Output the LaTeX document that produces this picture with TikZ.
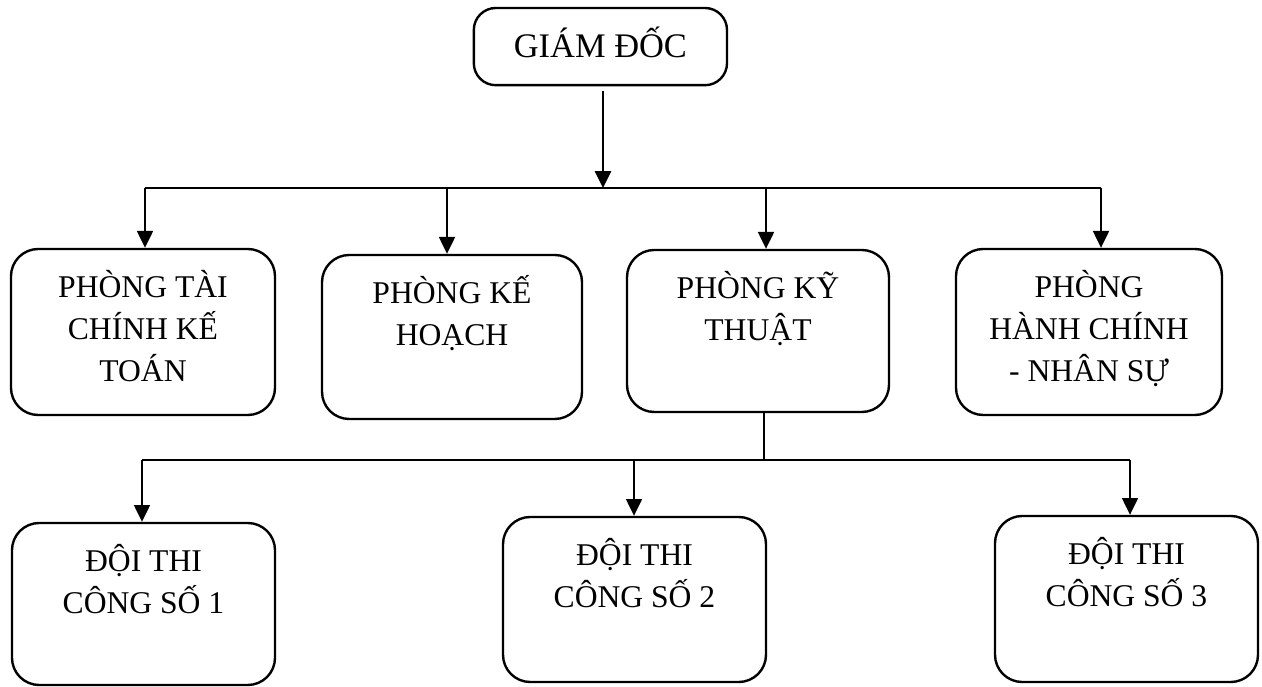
\documentclass[tikz,border=0pt]{standalone}
\usepackage{fontspec}
\setmainfont{Liberation Serif}
\usetikzlibrary{arrows.meta,positioning}

\tikzset{
  box/.style={draw, line width=1.7pt, rounded corners=0.68cm, inner sep=0pt},
  txt/.style={font=\fontsize{22.5}{29.9}\selectfont, align=center, anchor=base, inner sep=0pt},
}

\begin{document}
\begin{tikzpicture}[>={Triangle[length=0.42cm,width=0.4cm]}, line width=1.2pt]
  \useasboundingbox (0,0) rectangle (31.55,17.175);

  % giam doc
  \node[box, minimum width=6.33cm, minimum height=1.93cm, rounded corners=0.55cm,
        text depth=0.2cm, font=\fontsize{24.5}{29}\selectfont] (gd) at (15.01,16.01) {GIÁM ĐỐC};

  % phong ban
  \node[box, minimum width=6.6cm, minimum height=4.15cm] (tck) at (3.575,8.875) {};
  \node[box, minimum width=6.5cm, minimum height=4.1cm] (kh) at (11.3,8.75) {};
  \node[box, minimum width=6.55cm, minimum height=4.05cm] (kt) at (18.95,8.9) {};
  \node[box, minimum width=6.65cm, minimum height=4.15cm] (hc) at (27.225,8.875) {};

  % base = last line
  \node[txt] (tck-t) at ([yshift=-3.34cm]tck.north) {PHÒNG TÀI\\CHÍNH KẾ\\TOÁN};
  \node[txt] (kh-t) at ([yshift=-2.29cm]kh.north) {PHÒNG KẾ\\HOẠCH};
  \node[txt] (kt-t) at ([yshift=-2.29cm]kt.north) {PHÒNG KỸ\\THUẬT};
  \node[txt] (hc-t) at ([yshift=-3.34cm]hc.north) {PHÒNG\\HÀNH CHÍNH\\- NHÂN SỰ};

  % doi thi cong
  \node[box, minimum width=6.575cm, minimum height=4.05cm] (d1) at (3.5875,2.075) {};
  \node[box, minimum width=6.575cm, minimum height=4.125cm] (d2) at (15.8625,2.1875) {};
  \node[box, minimum width=6.575cm, minimum height=4.15cm] (d3) at (28.1625,2.2) {};

  \node[txt] (d1-t) at ([yshift=-2.29cm]d1.north) {ĐỘI THI\\CÔNG SỐ 1};
  \node[txt] (d2-t) at ([yshift=-2.29cm]d2.north) {ĐỘI THI\\CÔNG SỐ 2};
  \node[txt] (d3-t) at ([yshift=-2.29cm]d3.north) {ĐỘI THI\\CÔNG SỐ 3};

  % top bus
  \coordinate (bus) at (15.075,12.475);
  \coordinate (t1) at (3.625,12.475);
  \coordinate (t2) at (11.175,12.475);
  \coordinate (t3) at (19.15,12.475);
  \coordinate (t4) at (27.525,12.475);

  \draw[->, line width=1.5pt] ([yshift=-0.125cm]gd.south -| bus) -- (bus);
  \draw (t1) -- (t4);
  \draw[->] (t1) -- (t1 |- tck.north);
  \draw[->] (t2) -- (t2 |- kh.north);
  \draw[->] (t3) -- (t3 |- kt.north);
  \draw[->] (t4) -- (t4 |- hc.north);

  % bottom bus
  \coordinate (b0) at (19.1,5.675);
  \coordinate (b1) at (3.55,5.675);
  \coordinate (b2) at (15.85,5.675);
  \coordinate (b3) at (28.25,5.675);

  \draw (kt.south -| b0) -- (b0);
  \draw (b1) -- (b3);
  \draw[->] (b1) -- (b1 |- d1.north);
  \draw[->] (b2) -- (b2 |- d2.north);
  \draw[->] (b3) -- (b3 |- d3.north);
\end{tikzpicture}
\end{document}
